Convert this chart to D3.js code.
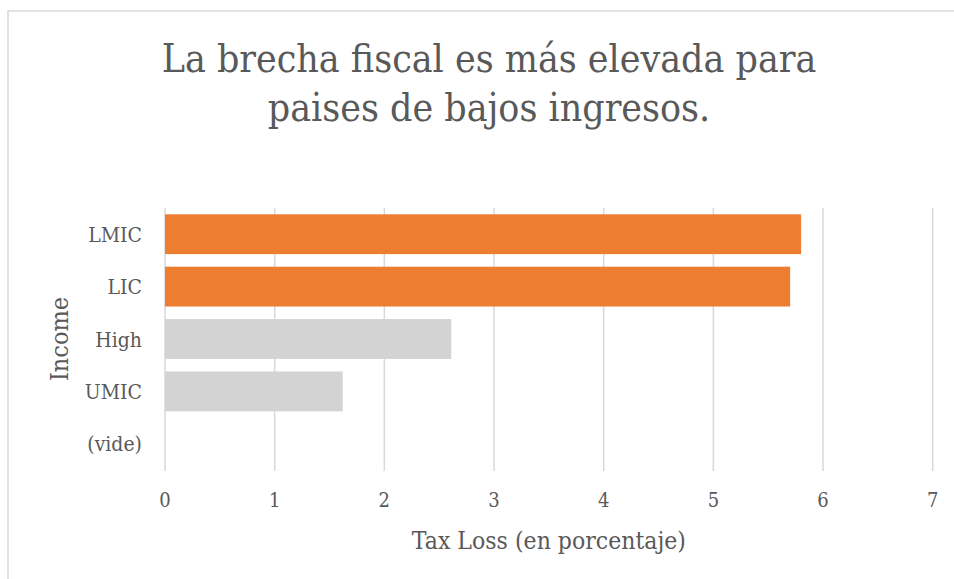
<!DOCTYPE html>
<html>
<head>
<meta charset="utf-8">
<script src="https://cdn.jsdelivr.net/npm/d3@7"></script>
<style>
html,body{margin:0;padding:0;background:#fff;}
svg{display:block;}
text{font-family:"DejaVu Serif",serif;fill:#595959;}
</style>
</head>
<body>
<svg id="chart" width="954" height="579"></svg>
<script>
const categories = ["LMIC", "LIC", "High", "UMIC", "(vide)"];
const values = [5.80, 5.70, 2.61, 1.62, null];
const highlight = ["LMIC", "LIC"];
const xTicks = [0, 1, 2, 3, 4, 5, 6, 7];
const titleLines = ["La brecha fiscal es más elevada para", "paises de bajos ingresos."];
const xTitle = "Tax Loss (en porcentaje)";
const yTitle = "Income";

const W = 954, H = 579;
const svg = d3.select("#chart");

// chart area border
svg.append("rect").attr("x", 8).attr("y", 11).attr("width", 1000).attr("height", 700)
  .attr("fill", "none").attr("stroke", "#D9D9D9").attr("stroke-width", 1.5);

const m = {left: 165, right: W - 932.7, top: 208, bottom: H - 470};
const x = d3.scaleLinear().domain([0, 7]).range([m.left, W - m.right]);
const y = d3.scaleBand().domain(categories).range([m.top, H - m.bottom]).paddingInner(0.24).paddingOuter(0.12);

function ctext(g, str, tx, ty, size, sx, anchor) {
  return g.append("text").attr("transform", `translate(${tx},${ty}) scale(${sx},1)`)
    .attr("font-size", size).attr("text-anchor", anchor || "middle").text(str);
}

// gridlines
svg.append("g").selectAll("line").data(xTicks).join("line")
  .attr("x1", d => x(d)).attr("x2", d => x(d))
  .attr("y1", m.top).attr("y2", H - m.bottom + 1)
  .attr("stroke", "#D9D9D9").attr("stroke-width", 1.5);

// bars
svg.append("g").selectAll("rect").data(categories.map((c, i) => ({c, v: values[i]})).filter(d => d.v != null))
  .join("rect")
  .attr("x", x(0)).attr("y", d => y(d.c))
  .attr("width", d => x(d.v) - x(0)).attr("height", y.bandwidth())
  .attr("fill", d => highlight.includes(d.c) ? "#ED7D31" : "#D3D3D3");

// x tick labels
const gx = svg.append("g");
xTicks.forEach(t => ctext(gx, String(t), x(t), 507, 20, 0.9));

// y tick labels
const gy = svg.append("g");
categories.forEach(c => ctext(gy, c, 142, y(c) + y.bandwidth() / 2 + 7.5, 21, 0.9, "end"));

// axis titles
ctext(svg, xTitle, (x(0) + x(7)) / 2, 549, 24, 0.92);
svg.append("text").attr("transform", `translate(68,${(m.top + H - m.bottom) / 2}) rotate(-90) scale(0.9,1)`)
  .attr("font-size", 25).attr("text-anchor", "middle").text(yTitle);

// title
ctext(svg, titleLines[0], 489, 72, 40, 0.875);
ctext(svg, titleLines[1], 489, 121, 40, 0.875);
</script>
</body>
</html>
